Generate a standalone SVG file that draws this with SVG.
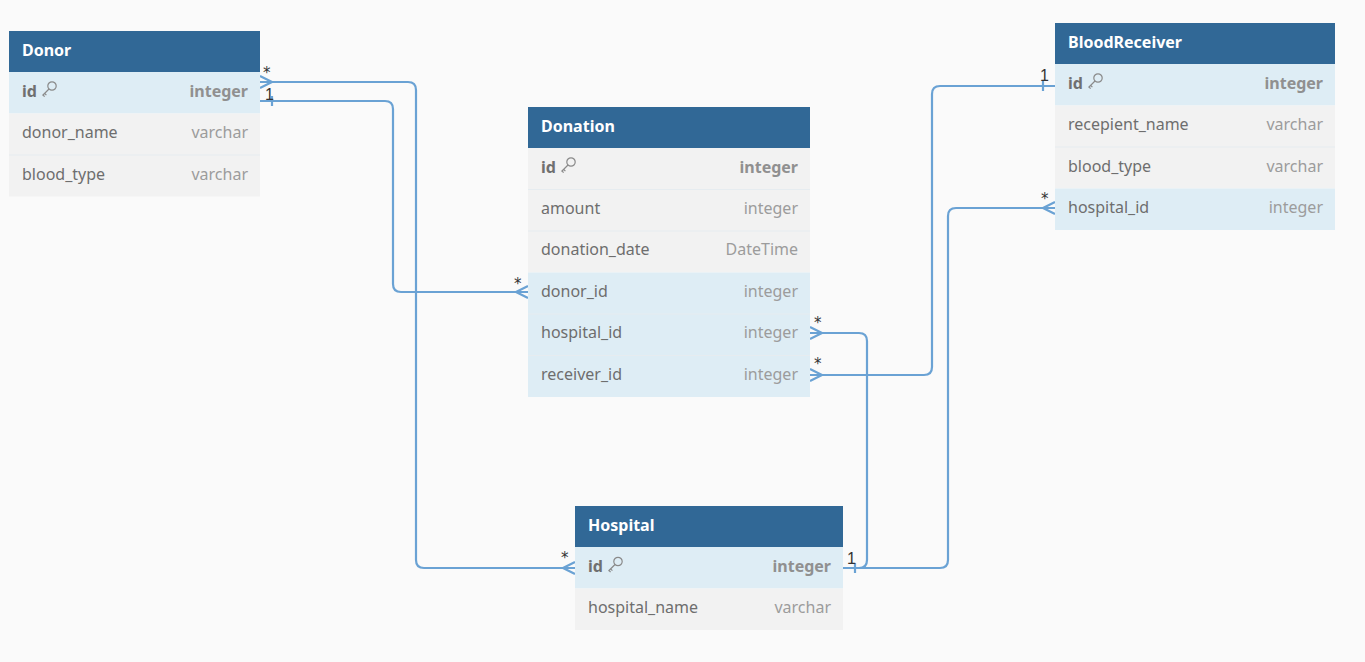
<svg xmlns="http://www.w3.org/2000/svg" xmlns:xlink="http://www.w3.org/1999/xlink" width="1365" height="662" viewBox="0 0 1365 662">
<defs>
<style>
.hdr{fill:#316896}
.pk{fill:#deedf5}
.row{fill:#f2f2f2}
.sep{stroke:#e6ecf0;stroke-width:1}
.title{font-family:"Noto Sans","Open Sans",sans-serif;font-size:16px;font-weight:bold;fill:#ffffff}
.name{font-family:"Noto Sans","Open Sans",sans-serif;font-size:16px;fill:#6e6e6e}
.type{font-family:"Noto Sans","Open Sans",sans-serif;font-size:16px;fill:#9c9c9c;text-anchor:end}
.bname{font-family:"Noto Sans","Open Sans",sans-serif;font-size:16px;font-weight:bold;fill:#707070}
.btype{font-family:"Noto Sans","Open Sans",sans-serif;font-size:16px;font-weight:bold;fill:#909090;text-anchor:end}
.conn{fill:none;stroke:#6aa2d4;stroke-width:2.2}
.lbl{font-family:"Liberation Sans","DejaVu Sans",sans-serif;font-size:16px;fill:#333333}
.star{font-family:"DejaVu Sans",sans-serif;font-size:15px;fill:#333333}
.key{fill:none;stroke:#8a8a8a;stroke-width:1.2}
</style>
<g id="keyicon">
<circle class="key" cx="5" cy="-5" r="4.2"/>
<path class="key" d="M2,-2 L-4.5,4.5 M-2.4,2.4 L-0.6,4.2 M-4,4 L-2.4,5.6"/>
</g>
</defs>
<rect width="1365" height="662" fill="#fafafa"/>

<g id="connectors">
<path class="conn" d="M260,82 H408 Q416,82 416,90 V560 Q416,568 424,568 H575"/>
<path class="conn" d="M260,76 L272,82 L260,88"/>
<path class="conn" d="M575,562 L563,568 L575,574"/>
<text class="star" x="263" y="78">*</text>
<text class="star" x="561" y="563">*</text>

<path class="conn" d="M260,101 H385 Q393,101 393,109 V284 Q393,292 401,292 H528"/>
<path class="conn" d="M272,96 V106"/>
<path class="conn" d="M528,286 L516,292 L528,298"/>
<text class="lbl" x="265" y="100">1</text>
<text class="star" x="514" y="289">*</text>

<path class="conn" d="M810,333 H859 Q867,333 867,341 V560 Q867,568 859,568 H843"/>
<path class="conn" d="M810,327 L822,333 L810,339"/>
<text class="star" x="814" y="328">*</text>

<path class="conn" d="M810,375 H924 Q932,375 932,367 V94 Q932,86 940,86 H1055"/>
<path class="conn" d="M810,369 L822,375 L810,381"/>
<path class="conn" d="M1043,81 V91"/>
<text class="star" x="814" y="369">*</text>
<text class="lbl" x="1040" y="81">1</text>

<path class="conn" d="M1055,208 H956 Q948,208 948,216 V560 Q948,568 940,568 H843"/>
<path class="conn" d="M1055,202 L1043,208 L1055,214"/>
<path class="conn" d="M855,563 V573"/>
<text class="star" x="1041" y="204">*</text>
<text class="lbl" x="847" y="564">1</text>
</g>

<g id="Donor">
<rect class="hdr" x="9" y="31" width="251" height="41"/>
<text class="title" x="22" y="56">Donor</text>
<rect class="pk" x="9" y="72" width="251" height="41.5"/>
<rect class="row" x="9" y="113.5" width="251" height="41.5"/>
<rect class="row" x="9" y="155" width="251" height="41.5"/>
<line class="sep" x1="9" y1="155" x2="260" y2="155"/>
<text class="bname" x="22" y="96.5">id</text>
<use xlink:href="#keyicon" x="47" y="91"/>
<text class="btype" x="248" y="96.5">integer</text>
<text class="name" x="22" y="138">donor_name</text>
<text class="type" x="248" y="138">varchar</text>
<text class="name" x="22" y="179.5">blood_type</text>
<text class="type" x="248" y="179.5">varchar</text>
</g>

<g id="Donation">
<rect class="hdr" x="528" y="107" width="282" height="41"/>
<text class="title" x="541" y="132">Donation</text>
<rect class="row" x="528" y="148" width="282" height="41.5"/>
<rect class="row" x="528" y="189.5" width="282" height="41.5"/>
<rect class="row" x="528" y="231" width="282" height="41.5"/>
<rect class="pk" x="528" y="272.5" width="282" height="41.5"/>
<rect class="pk" x="528" y="314" width="282" height="41.5"/>
<rect class="pk" x="528" y="355.5" width="282" height="41.5"/>
<line class="sep" x1="528" y1="189.5" x2="810" y2="189.5"/>
<line class="sep" x1="528" y1="231" x2="810" y2="231"/>
<line class="sep" x1="528" y1="314" x2="810" y2="314"/>
<line class="sep" x1="528" y1="355.5" x2="810" y2="355.5"/>
<text class="bname" x="541" y="172.5">id</text>
<use xlink:href="#keyicon" x="566" y="167"/>
<text class="btype" x="798" y="172.5">integer</text>
<text class="name" x="541" y="214">amount</text>
<text class="type" x="798" y="214">integer</text>
<text class="name" x="541" y="255">donation_date</text>
<text class="type" x="798" y="255">DateTime</text>
<text class="name" x="541" y="297">donor_id</text>
<text class="type" x="798" y="297">integer</text>
<text class="name" x="541" y="338">hospital_id</text>
<text class="type" x="798" y="338">integer</text>
<text class="name" x="541" y="379.5">receiver_id</text>
<text class="type" x="798" y="379.5">integer</text>
</g>

<g id="BloodReceiver">
<rect class="hdr" x="1055" y="23" width="280" height="41"/>
<text class="title" x="1068" y="48">BloodReceiver</text>
<rect class="pk" x="1055" y="64" width="280" height="41.5"/>
<rect class="row" x="1055" y="105.5" width="280" height="41.5"/>
<rect class="row" x="1055" y="147" width="280" height="41.5"/>
<rect class="pk" x="1055" y="188.5" width="280" height="41.5"/>
<line class="sep" x1="1055" y1="147" x2="1335" y2="147"/>
<text class="bname" x="1068" y="88.5">id</text>
<use xlink:href="#keyicon" x="1093" y="83"/>
<text class="btype" x="1323" y="88.5">integer</text>
<text class="name" x="1068" y="130">recepient_name</text>
<text class="type" x="1323" y="130">varchar</text>
<text class="name" x="1068" y="171.5">blood_type</text>
<text class="type" x="1323" y="171.5">varchar</text>
<text class="name" x="1068" y="213">hospital_id</text>
<text class="type" x="1323" y="213">integer</text>
</g>

<g id="Hospital">
<rect class="hdr" x="575" y="506" width="268" height="41"/>
<text class="title" x="588" y="531">Hospital</text>
<rect class="pk" x="575" y="547" width="268" height="41.5"/>
<rect class="row" x="575" y="588.5" width="268" height="41.5"/>
<text class="bname" x="588" y="572">id</text>
<use xlink:href="#keyicon" x="613" y="566.5"/>
<text class="btype" x="831" y="572">integer</text>
<text class="name" x="588" y="613">hospital_name</text>
<text class="type" x="831" y="613">varchar</text>
</g>
</svg>
